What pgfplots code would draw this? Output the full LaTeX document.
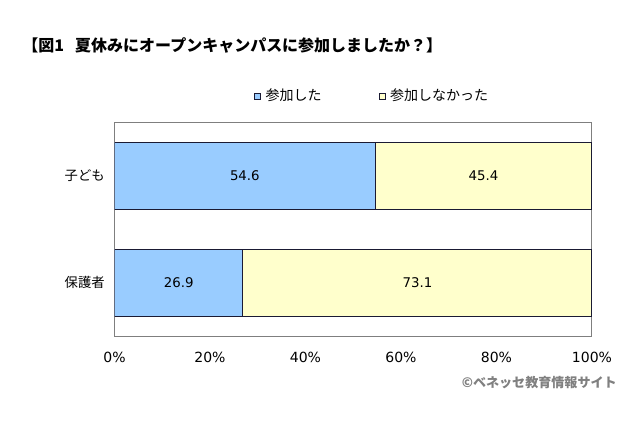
\documentclass[border=0pt]{standalone}
\usepackage{fontspec}
\setmainfont{Noto Sans CJK JP}
\newfontfamily\numfont{DejaVu Sans}
\usepackage{pgfplots}
\pgfplotsset{compat=1.18}
\definecolor{barblue}{HTML}{99CCFF}
\definecolor{baryel}{HTML}{FFFFCC}
\definecolor{edge}{HTML}{1A1A33}
\definecolor{frame}{HTML}{7F7F7F}
\begin{document}
\begin{tikzpicture}
\useasboundingbox[fill=white] (0,0) rectangle (480pt,319.5pt);
\node[anchor=west,inner sep=0pt,font=\fontsize{12pt}{13pt}\selectfont\bfseries] at (16.5pt,285.75pt) {【図1\hspace{0.7em}夏休みにオープンキャンパスに参加しましたか？】};
\begin{axis}[
  at={(85.875pt,67.5pt)}, anchor=south west,
  scale only axis, width=358.1pt, height=160.5pt,
  xbar stacked, bar width=50.25pt,
  xmin=0, xmax=100, ymin=-0.5, ymax=1.5,
  xtick={0,20,40,60,80,100},
  xticklabels={0\%,20\%,40\%,60\%,80\%,100\%},
  ytick={0,1}, yticklabels={保護者,子ども},
  major tick length=0pt,
  axis line style={draw=frame, line width=0.75pt},
  xticklabel style={font=\numfont\fontsize{10.5pt}{12pt}\selectfont, yshift=-8.5pt},
  yticklabel style={font=\fontsize{10pt}{12pt}\selectfont, xshift=-3.8pt},
  nodes near coords,
  visualization depends on=rawx \as \rawx,
  nodes near coords style={font=\numfont\fontsize{10pt}{12pt}\selectfont, anchor=center},
  nodes near coords={\pgfmathprintnumber[fixed,precision=1,fixed zerofill,assume math mode=true]{\rawx}},
  legend columns=2,
  legend style={at={(0.292,1.121)}, anchor=west, draw=none, fill=none,
    font=\fontsize{10.5pt}{12pt}\selectfont, inner sep=0pt,
    /tikz/every even column/.append style={column sep=41pt},
    /tikz/every odd column/.append style={column sep=1.5pt}},
  legend image code/.code={\draw[#1, draw=edge, line width=0.6pt] (0pt,-2.2pt) rectangle (4.4pt,2.2pt);},
]
\addplot[fill=barblue, draw=edge, line width=0.75pt] coordinates {(26.9,0) (54.6,1)};
\addplot[fill=baryel, draw=edge, line width=0.75pt] coordinates {(73.1,0) (45.4,1)};
\legend{参加した,参加しなかった}
\end{axis}
\node[anchor=east,inner sep=0pt,text=gray,font=\fontsize{9.8pt}{11pt}\selectfont\bfseries] at (462.75pt,32.25pt) {©ベネッセ教育情報サイト};
\end{tikzpicture}
\end{document}
